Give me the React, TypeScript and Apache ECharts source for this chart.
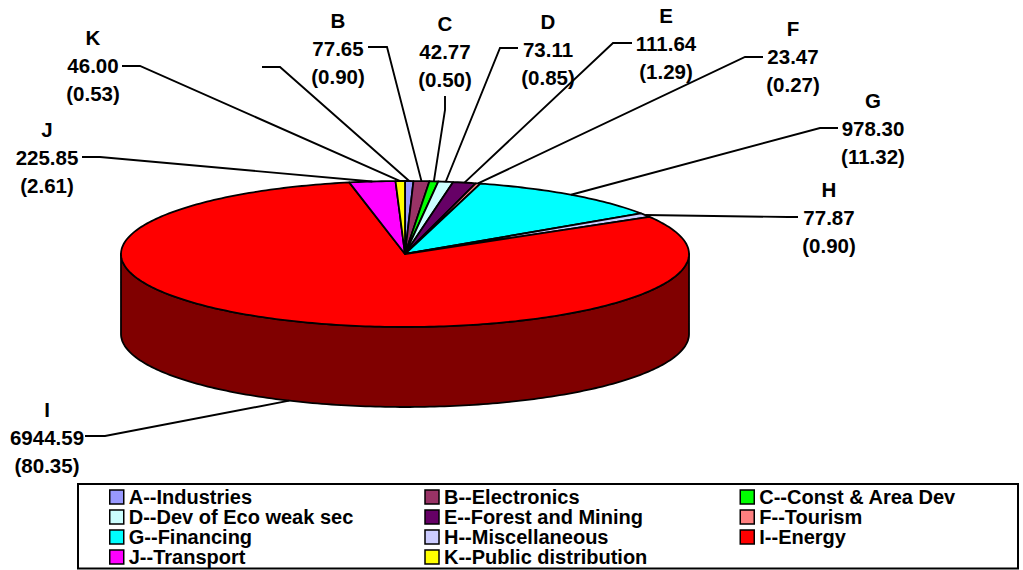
import React, { useEffect, useRef } from "react";
import * as echarts from "echarts";

// ---- data ----
const letters = ["A", "B", "C", "D", "E", "F", "G", "H", "I", "J", "K"];
const legendNames = [
  "A--Industries",
  "B--Electronics",
  "C--Const & Area Dev",
  "D--Dev of Eco weak sec",
  "E--Forest and Mining",
  "F--Tourism",
  "G--Financing",
  "H--Miscellaneous",
  "I--Energy",
  "J--Transport",
  "K--Public distribution",
];
const values = [41.0, 77.65, 42.77, 73.11, 111.64, 23.47, 978.3, 77.87, 6944.59, 225.85, 46.0];
const percents = ["0.47", "0.90", "0.50", "0.85", "1.29", "0.27", "11.32", "0.90", "80.35", "2.61", "0.53"];
const labelShown = [false, true, true, true, true, true, true, true, true, true, true];
const colors = [
  "#9999FF",
  "#993366",
  "#00FF00",
  "#CCFFFF",
  "#660066",
  "#FF8080",
  "#00FFFF",
  "#CCCCFF",
  "#FF0000",
  "#FF00FF",
  "#FFFF00",
];

// ---- layout ----
const PIE = { cx: 405, cy: 254, rx: 284, ry: 73, depth: 80 };
// label text centre (x, y of the value line) and the leader start / elbow
const labelLayout: { tx: number; ty: number; lead: [number, number][] }[] = [
  { tx: 232, ty: 67, lead: [[262, 67], [280, 67]] }, // A (no text shown)
  { tx: 338, ty: 48, lead: [[368, 47], [387, 47]] }, // B
  { tx: 445, ty: 51, lead: [[445, 96], [445, 110]] }, // C
  { tx: 548, ty: 49, lead: [[518, 48], [500, 48]] }, // D
  { tx: 666, ty: 43, lead: [[632, 43], [613, 43]] }, // E
  { tx: 793, ty: 56, lead: [[763, 57], [745, 57]] }, // F
  { tx: 873, ty: 128, lead: [[838, 128], [820, 128]] }, // G
  { tx: 829, ty: 217, lead: [[798, 217], [788, 217]] }, // H
  { tx: 47, ty: 437, lead: [[85, 436], [105, 436]] }, // I
  { tx: 47, ty: 157, lead: [[82, 157], [100, 157]] }, // J
  { tx: 93, ty: 65, lead: [[122, 66], [140, 66]] }, // K
];

const FONT = "'Liberation Sans', Arial, Helvetica, sans-serif";

function darken(hex: string, f: number) {
  const n = parseInt(hex.slice(1), 16);
  const r = Math.round(((n >> 16) & 255) * f);
  const g = Math.round(((n >> 8) & 255) * f);
  const b = Math.round((n & 255) * f);
  return `rgb(${r},${g},${b})`;
}

const total = values.reduce((a, b) => a + b, 0);
const cumulative: number[] = [0];
values.forEach((v, i) => cumulative.push(cumulative[i] + v));

function pt(theta: number, dy: number): [number, number] {
  return [PIE.cx + PIE.rx * Math.sin(theta), PIE.cy - PIE.ry * Math.cos(theta) + dy];
}

function arc(a0: number, a1: number, dy: number): [number, number][] {
  const pts: [number, number][] = [];
  const steps = Math.max(2, Math.ceil(((a1 - a0) * 180) / Math.PI));
  for (let s = 0; s <= steps; s++) pts.push(pt(a0 + ((a1 - a0) * s) / steps, dy));
  return pts;
}

function makeRenderItem(i: number) {
  return (params: any, api: any) => {
    const v = api.value(0);
    const start = (cumulative[i] / total) * Math.PI * 2;
    const end = ((cumulative[i] + v) / total) * Math.PI * 2;
    const children: any[] = [];

    // visible side wall (front half: PI/2 .. 3PI/2)
    const s0 = Math.max(start, Math.PI / 2);
    const s1 = Math.min(end, (Math.PI * 3) / 2);
    if (s1 > s0) {
      const topArc = arc(s0, s1, 0);
      const botArc = arc(s0, s1, PIE.depth).reverse();
      children.push({
        type: "polygon",
        shape: { points: topArc.concat(botArc) },
        style: { fill: darken(colors[i], 0.5), stroke: "#000", lineWidth: 1.8, lineJoin: "round" },
      });
    }

    // top face
    children.push({
      type: "polygon",
      shape: { points: [[PIE.cx, PIE.cy] as [number, number]].concat(arc(start, end, 0)) },
      style: { fill: colors[i], stroke: "#000", lineWidth: 1.8, lineJoin: "round" },
    });

    // leader line
    const mid = (start + end) / 2;
    const front = Math.cos(mid) < 0;
    const anchor = pt(mid, front ? PIE.depth : 0);
    const L = labelLayout[i];
    children.push({
      type: "polyline",
      shape: { points: [L.lead[0], L.lead[1], anchor] },
      style: { stroke: "#000", lineWidth: 1.9, fill: null },
    });

    if (labelShown[i]) {
      children.push({
        type: "text",
        style: {
          text: `${letters[i]}\n${v.toFixed(2)}\n(${percents[i]})`,
          x: L.tx,
          y: L.ty,
          align: "center",
          verticalAlign: "middle",
          fill: "#000",
          fontFamily: FONT,
          fontWeight: "bold",
          fontSize: 20.5,
          lineHeight: 28,
        },
      });
    }
    return { type: "group", children };
  };
}

export default function App() {
  const ref = useRef<HTMLDivElement>(null);
  useEffect(() => {
    if (!ref.current) return;
    const chart = echarts.init(ref.current, undefined, { renderer: "svg" });
    chart.setOption({
      animation: false,
      backgroundColor: "#fff",
      legend: {
        data: legendNames,
        left: 109,
        top: 487,
        width: 990,
        orient: "horizontal",
        padding: 0,
        itemGap: 0,
        itemWidth: 14,
        itemHeight: 14,
        icon: "rect",
        selectedMode: false,
        itemStyle: { borderColor: "#000", borderWidth: 1.5 },
        textStyle: {
          fontFamily: FONT,
          fontWeight: "bold",
          fontSize: 20,
          color: "#000",
          width: 295.5,
          lineHeight: 19.5,
        },
      },
      graphic: [
        {
          type: "rect",
          shape: { x: 78, y: 484, width: 940, height: 84.5 },
          style: { fill: "none", stroke: "#000", lineWidth: 2 },
          silent: true,
        },
      ],
      series: values.map((v, i) => ({
        type: "custom",
        name: legendNames[i],
        coordinateSystem: "none",
        itemStyle: { color: colors[i] },
        data: [[v]],
        silent: true,
        renderItem: makeRenderItem(i),
      })),
    });
    return () => chart.dispose();
  }, []);
  return (
    <div
      ref={ref}
      style={{ position: "fixed", left: 0, top: 0, width: 1023, height: 570 }}
    />
  );
}
